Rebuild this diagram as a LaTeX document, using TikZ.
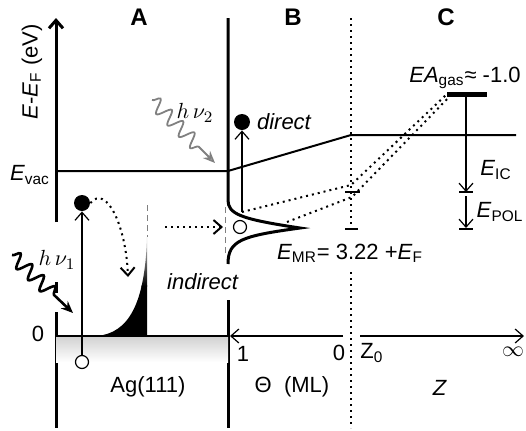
\documentclass[tikz,border=0pt]{standalone}
\usepackage{fontspec}
\setmainfont{Liberation Sans}
\usetikzlibrary{arrows,arrows.meta,positioning,decorations.pathmorphing}

\begin{document}
\begin{tikzpicture}[x=0.5pt, y=-0.5pt, >={Straight Barb[length=4pt,width=7pt]},
    font=\fontsize{11}{13}\selectfont,
    axis/.style={line width=1.5pt},
    level/.style={line width=1pt},
    guide/.style={dotted, line width=1pt},
    thinline/.style={line width=0.6pt},
    elec/.style={circle, fill=black, inner sep=0pt, minimum size=8pt},
    hole/.style={circle, draw, thinline, fill=white, inner sep=0pt, minimum size=6.5pt},
    panel/.style={font=\fontsize{12}{14}\selectfont\bfseries},
    photon/.style={decorate, decoration={snake, amplitude=3.5pt, segment length=8pt, post length=10pt}}]
    \useasboundingbox (0,0) rectangle (526,430);

    \node[panel] (pA) at (139,17) {A};
    \node[panel] (pB) at (293,17) {B};
    \node[panel] (pC) at (446,17) {C};

    \node[rotate=90] (ylab) at (32,72) {\textit{E}-\textit{E}\textsubscript{F} (eV)};
    \node (vac) at (30,175) {\textit{E}\textsubscript{vac}};
    \node (zero) at (38,334) {0};

    \draw[axis,->] (56,222) -- (56,18);
    \draw[axis] (56,282) -- (56,293);
    \draw[axis] (56,312) -- (56,428);

    \coordinate (vacA) at (56,171);
    \coordinate (surf) at (228,171);
    \coordinate (zzero) at (351,135);
    \coordinate (vacC) at (516,135);
    \draw[level] (vacA) -- (surf) -- (zzero) -- (vacC);

    \draw[axis] (228,18) -- (228,200) .. controls (228,214) and (240,219) .. (300,228)
        .. controls (242,236) and (228,240) .. (228,264);
    \draw[axis] (228,300) -- (228,428);
    \draw[gray, densely dashed, line width=0.3pt] (225,207) -- (225,255);

    \shade[top color=gray!35, bottom color=white] (56,337) rectangle (228,362);
    \draw[thinline] (56,336) -- (228,336);
    \begin{scope}
        \clip (97,336) .. controls (128,333) and (145,305) .. (147,237) -- (147,336) -- cycle;
        \fill (90,285) rectangle (150,340);
        \shade[top color=gray!30, bottom color=black] (90,236) rectangle (150,286);
    \end{scope}
    \draw[gray, densely dashed, line width=0.3pt] (147,205) -- (147,237);

    \draw[thinline,->] (343,336) -- (230,336);
    \draw[thinline,->] (360,336) -- (524,336);

    \draw[guide] (351,18) -- (351,232);
    \draw[guide] (351,272) -- (351,428);
    \draw[level] (345,192) -- (360,192);
    \draw[level] (345,229) -- (358,229);

    \coordinate (gasL) at (447,94);
    \coordinate (gasR) at (487,94);
    \draw[line width=2.5pt] (gasL) -- (gasR);
    \draw[thinline,->] (466,96) -- (466,192);
    \draw[level] (459,192) -- (473,192);
    \draw[thinline,->] (466,196) -- (466,228);
    \draw[level] (459,229) -- (473,229);

    \node[elec] (eB) at (242,122) {};
    \node[hole] (hB) at (240,227) {};
    \coordinate (mrB) at (242,212);
    \coordinate (mrP) at (287,222);
    \draw[thinline,->] (mrB) -- (eB);
    \draw[guide] (mrB) -- (351,185) -- (gasL);
    \draw[guide] (mrP) -- (352,197) -- (452,94);
    \coordinate (inA) at (165,227);
    \coordinate (inB) at (223,227);
    \draw[guide,->] (inA) -- (inB);

    \node[elec] (eA) at (82,203) {};
    \node[hole] (hA) at (82,362) {};
    \draw[thinline,->] (hA) -- (eA);
    \draw[guide,->] (eA.east) .. controls (106,184) and (126,225) .. (128,277);

    \draw[photon, line width=1.3pt, -{Stealth[length=6pt,width=5pt]}] (12,255) -- (73,313);
    \node (hv1) at (57,260) {$h\,\nu_1$};
    \draw[photon, gray, line width=0.9pt, -{Stealth[open,length=6pt,width=5pt]}] (152,100) -- (215,163);
    \node (hv2) at (195,113) {$h\,\nu_2$};

    \node[anchor=west] (direct) at (250,122) {\textit{direct}};
    \node (indirect) at (203,282) {\textit{indirect}};
    \node (eagas) at (465,78) {\textit{EA}\textsubscript{gas}≈ -1.0};
    \node (eic) at (496,170) {\textit{E}\textsubscript{IC}};
    \node (epol) at (500,212) {\textit{E}\textsubscript{POL}};
    \node (emr) at (350,253) {\textit{E}\textsubscript{MR}= 3.22 +\textit{E}\textsubscript{F}};

    \node (ag) at (148,387) {Ag(111)};
    \node (theta) at (292,387) {Θ\ \ (ML)};
    \node (zlab) at (440,388) {\textit{Z}};
    \node (one) at (243,354) {1};
    \node (zz) at (339,353) {0};
    \node (z0) at (372,353) {Z\textsubscript{0}};
    \node (inf) at (513,352) {$\infty$};
\end{tikzpicture}
\end{document}
